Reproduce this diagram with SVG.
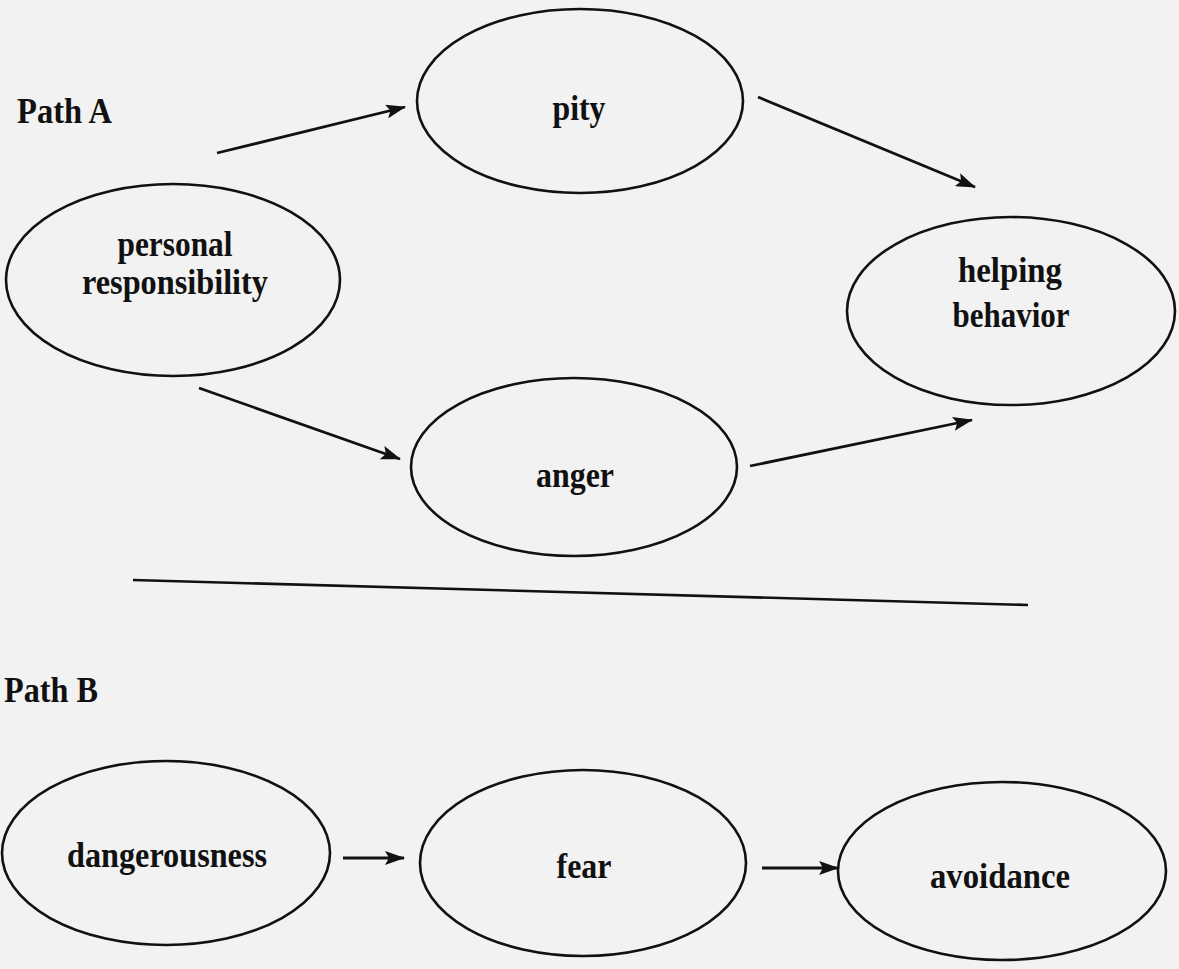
<svg xmlns="http://www.w3.org/2000/svg" width="1179" height="969" viewBox="0 0 1179 969">
  <defs>
    <marker id="ah" viewBox="0 0 20 14" refX="19" refY="7" markerWidth="20" markerHeight="14" markerUnits="userSpaceOnUse" orient="auto">
      <path d="M0,0 L20,7 L0,14 L4,7 Z" fill="#111"/>
    </marker>
    <style>
      .node ellipse { fill: none; stroke: #111; stroke-width: 2.6; }
      .lbl { font-family: "Liberation Serif", "Times New Roman", serif; font-weight: bold; font-size: 35px; fill: #111; text-anchor: middle; }
      .title { font-family: "Liberation Serif", "Times New Roman", serif; font-weight: bold; font-size: 35px; fill: #111; }
      .conn line { stroke: #111; stroke-width: 2.8; marker-end: url(#ah); }
    </style>
  </defs>
  <rect x="0" y="0" width="1179" height="969" fill="#f2f2f2"/>

  <text class="title" x="17" y="123" textLength="95" lengthAdjust="spacingAndGlyphs">Path A</text>
  <text class="title" x="4" y="702" textLength="94" lengthAdjust="spacingAndGlyphs">Path B</text>

  <g id="personal-responsibility" class="node">
    <ellipse cx="173" cy="280" rx="167" ry="96"/>
    <text class="lbl" x="175" y="256" textLength="115" lengthAdjust="spacingAndGlyphs">personal</text>
    <text class="lbl" x="175" y="294" textLength="186" lengthAdjust="spacingAndGlyphs">responsibility</text>
  </g>
  <g id="pity" class="node">
    <ellipse cx="580" cy="101" rx="163" ry="92"/>
    <text class="lbl" x="579" y="120" textLength="53" lengthAdjust="spacingAndGlyphs">pity</text>
  </g>
  <g id="anger" class="node">
    <ellipse cx="574" cy="467" rx="163" ry="89"/>
    <text class="lbl" x="575" y="487" textLength="78" lengthAdjust="spacingAndGlyphs">anger</text>
  </g>
  <g id="helping-behavior" class="node">
    <ellipse cx="1011" cy="311" rx="164" ry="94"/>
    <text class="lbl" x="1010" y="282" textLength="104" lengthAdjust="spacingAndGlyphs">helping</text>
    <text class="lbl" x="1011" y="327" textLength="117" lengthAdjust="spacingAndGlyphs">behavior</text>
  </g>
  <g id="dangerousness" class="node">
    <ellipse cx="166" cy="853" rx="164" ry="92"/>
    <text class="lbl" x="167" y="867" textLength="200" lengthAdjust="spacingAndGlyphs">dangerousness</text>
  </g>
  <g id="fear" class="node">
    <ellipse cx="583" cy="863" rx="163" ry="93"/>
    <text class="lbl" x="584" y="878" textLength="55" lengthAdjust="spacingAndGlyphs">fear</text>
  </g>
  <g id="avoidance" class="node">
    <ellipse cx="1002" cy="871" rx="164" ry="89"/>
    <text class="lbl" x="1000" y="888" textLength="140" lengthAdjust="spacingAndGlyphs">avoidance</text>
  </g>

  <g id="connectors" class="conn">
    <line x1="217" y1="153" x2="405" y2="107"/>
    <line x1="758" y1="97" x2="975" y2="187"/>
    <line x1="199" y1="388" x2="400" y2="459"/>
    <line x1="750" y1="466" x2="972" y2="420"/>
    <line x1="343" y1="858" x2="404" y2="858"/>
    <line x1="762" y1="868" x2="838" y2="868"/>
  </g>
  <line id="divider" x1="133" y1="580" x2="1028" y2="605" stroke="#111" stroke-width="2.6"/>
</svg>
